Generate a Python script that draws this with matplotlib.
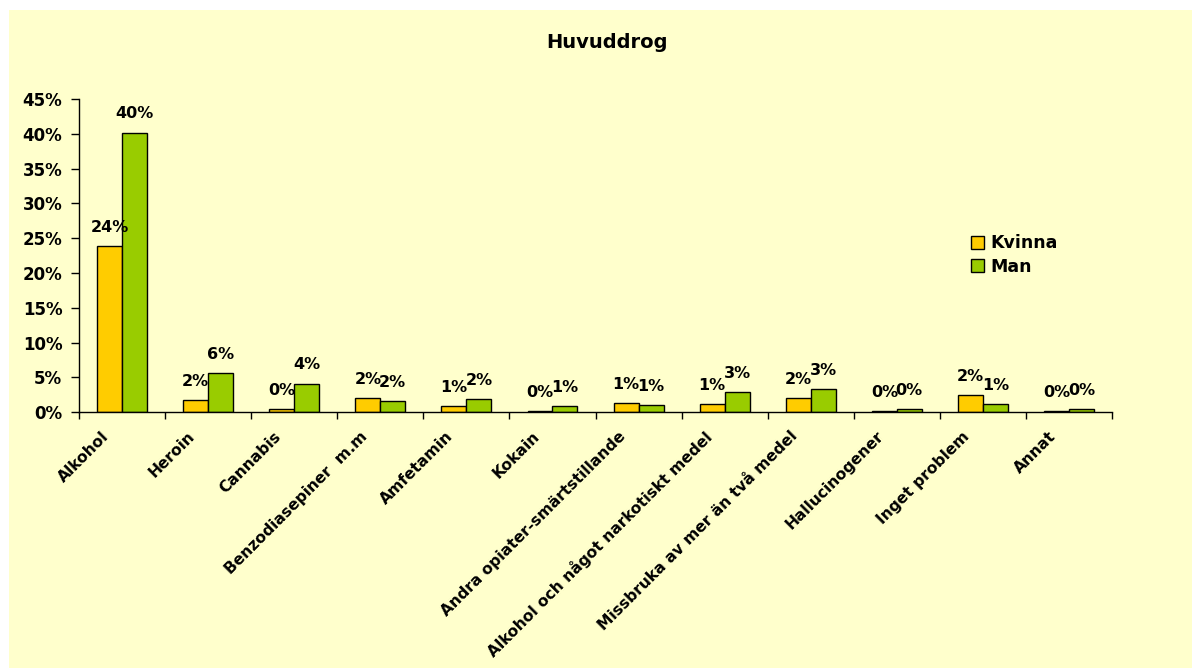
import matplotlib
matplotlib.use("Agg")
import matplotlib.pyplot as plt
import matplotlib.transforms as mtransforms
from matplotlib.patches import Rectangle
from matplotlib.ticker import FixedLocator, FuncFormatter
import numpy as np

categories = ["Alkohol", "Heroin", "Cannabis", "Benzodiasepiner  m.m", "Amfetamin",
              "Kokain", "Andra opiater-smärtstillande", "Alkohol och något narkotiskt medel",
              "Missbruka av mer än två medel", "Hallucinogener", "Inget problem", "Annat"]
kvinna = [23.9, 1.7, 0.45, 2.0, 0.8, 0.15, 1.25, 1.2, 2.0, 0.15, 2.4, 0.2]
man = [40.2, 5.6, 4.1, 1.6, 1.9, 0.9, 0.95, 2.9, 3.35, 0.4, 1.2, 0.45]

plt.rcParams['font.family'] = ['DejaVu Sans']
plt.rcParams['font.weight'] = 'bold'

fig = plt.figure(figsize=(11.92, 6.7), dpi=100)
fig.patch.set_facecolor('white')
# gul bakgrund för diagramytan
fig.patches.append(Rectangle((0.0076, 0.003), 0.992, 0.982, transform=fig.transFigure,
                             facecolor='#FFFFCC', edgecolor='none', zorder=-10))

ax = fig.add_axes([0.0663, 0.385, 0.8666, 0.467])
ax.set_facecolor('none')

x = np.arange(len(categories))
w = 0.29
b1 = ax.bar(x - w / 2, kvinna, w, color='#FFCC00', edgecolor='black', linewidth=1, label='Kvinna')
b2 = ax.bar(x + w / 2, man, w, color='#99CC00', edgecolor='black', linewidth=1, label='Man')

for bars, vals in [(b1, kvinna), (b2, man)]:
    for r, v in zip(bars, vals):
        ax.annotate(f"{v:.0f}%", (r.get_x() + r.get_width() / 2, v), xytext=(0, 8),
                    textcoords='offset points', ha='center', va='bottom',
                    fontsize=11.5, fontweight='bold')

ax.set_xlim(-0.5, len(categories) - 0.5)
ax.set_ylim(0, 45)
ax.set_yticks(np.arange(0, 46, 5))
ax.yaxis.set_major_formatter(FuncFormatter(lambda v, p: f"{v:.0f}%"))
ax.tick_params(axis='y', length=6, width=1, labelsize=12, pad=6)

ax.set_xticks(x)
ax.set_xticklabels(categories, rotation=45, ha='right', va='top', rotation_mode='anchor',
                   fontsize=11.2, fontweight='bold')
ax.tick_params(axis='x', length=0, pad=12)
ax.xaxis.set_minor_locator(FixedLocator(np.arange(-0.5, len(categories), 1)))
ax.tick_params(axis='x', which='minor', length=5, width=1)
offset = mtransforms.ScaledTranslation(-15 / 72, 0, fig.dpi_scale_trans)
for lbl in ax.get_xticklabels():
    lbl.set_transform(lbl.get_transform() + offset)

for s in ['top', 'right']:
    ax.spines[s].set_visible(False)
for s in ['left', 'bottom']:
    ax.spines[s].set_linewidth(1)

leg = ax.legend(loc='upper left', bbox_to_anchor=(0.857, 0.59), frameon=False,
                fontsize=12.5, handlelength=0.75, handleheight=0.75, handletextpad=0.35,
                borderaxespad=0, labelspacing=0.3)
for t in leg.get_texts():
    t.set_fontweight('bold')

fig.text(0.509, 0.937, "Huvuddrog", ha='center', va='center', fontsize=14, fontweight='bold')

fig.savefig("out.png", dpi=100)
